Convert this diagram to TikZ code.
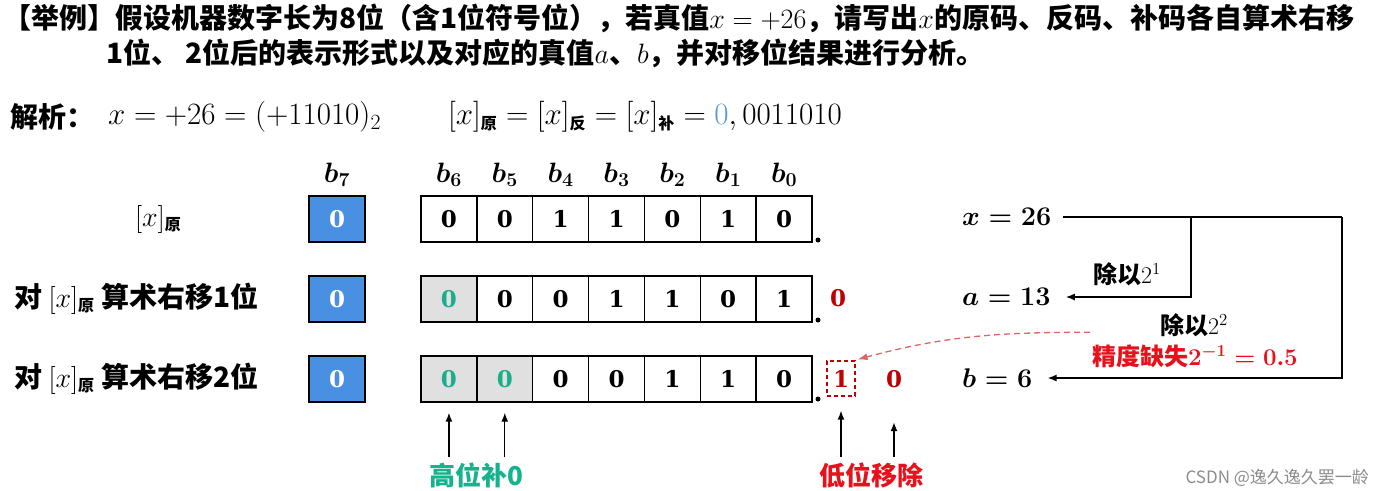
\RequirePackage{fix-cm}
\documentclass[tikz,border=0pt]{standalone}
\usepackage{amsmath}
\usepackage[no-math]{fontspec}
\setmainfont{Noto Sans CJK SC}
\newfontfamily\wmfont{Noto Sans CJK SC}
\newfontfamily\digfont{DejaVu Serif}
\usetikzlibrary{arrows.meta}
\definecolor{signblue}{HTML}{4A90E2}
\definecolor{padteal}{HTML}{1AAE8A}
\definecolor{lblteal}{HTML}{12B38D}
\definecolor{bitred}{HTML}{C00000}
\definecolor{brightred}{HTML}{E8101A}
\definecolor{dashred}{HTML}{E06666}
\definecolor{fblue}{HTML}{5B9BD5}
\newcommand\cjsub[1]{_{\mbox{\fontsize{16}{16}\selectfont\bfseries #1}}}
\newcommand\bnum[1]{{\boldmath$#1$}}
\tikzset{
  cell/.style={draw, line width=1.4pt, minimum width=55.86pt, minimum height=46pt, inner sep=0pt, font=\fontsize{23}{23}\digfont\bfseries},
  signcell/.style={cell, fill=signblue, text=white},
  padcell/.style={cell, fill=black!12, text=padteal},
  bitlbl/.style={font=\fontsize{28}{28}\selectfont},
  ttl/.style={anchor=west, inner sep=0pt, font=\fontsize{28}{28}\selectfont\bfseries},
  rowlbl/.style={anchor=west, inner sep=0pt, font=\fontsize{28}{28}\selectfont\bfseries},
  val/.style={anchor=west, inner sep=0pt, font=\fontsize{27}{27}\selectfont},
  frm/.style={anchor=west, inner sep=0pt, font=\fontsize{31}{31}\selectfont},
  reddig/.style={text=bitred, font=\fontsize{23}{23}\digfont\bfseries},
  arr/.style={line width=1.4pt, -{Latex[length=9pt,width=7pt]}},
  conn/.style={line width=1.6pt, -{Latex[length=9pt,width=7pt]}},
  dotc/.style={circle, fill=black, inner sep=0pt, minimum size=5pt},
}
\begin{document}
\begin{tikzpicture}[x=1pt,y=-1pt]
\useasboundingbox (0,0) rectangle (1383,490);
% title
\node[ttl] (t1) at (3,18) {【举例】假设机器数字长为8位（含1位符号位），若真值$x=+26$，请写出$x$的原码、反码、补码各自算术右移};
\node[ttl] (t2) at (106,53) {1位、 2位后的表示形式以及对应的真值$a$、$b$，并对移位结果进行分析。};
% analysis
\node[rowlbl] (jx) at (10,117) {解析：};
\node[frm] (f1) at (108,117) {$x=+26=(+11010)_2$};
\node[frm] (f2) at (448,117) {$[x]\cjsub{原}=[x]\cjsub{反}=[x]\cjsub{补}=\textcolor{fblue}{0},0011010$};
% bit labels
\node[bitlbl] (b7) at (337,175) {\bnum{b_7}};
\foreach \i/\k in {0/6,1/5,2/4,3/3,4/2,5/1,6/0}
  \node[bitlbl] (b\k) at (448.93+55.86*\i,175) {\bnum{b_{\k}}};
% row labels
\node[rowlbl] (l1) at (135,219) {$[x]\cjsub{原}$};
\node[rowlbl] (l2) at (14,299) {对 $[x]\cjsub{原}$ 算术右移1位};
\node[rowlbl] (l3) at (14,379) {对 $[x]\cjsub{原}$ 算术右移2位};
% sign cells
\foreach \r/\y in {1/219,2/299,3/379}
  \node[signcell] (r\r s) at (337,\y) {0};
% row 1
\foreach \v [count=\i from 0] in {0,0,1,1,0,1,0}
  \node[cell] (r1c\i) at (448.93+55.86*\i,219) {\v};
% row 2
\node[padcell] (r2c0) at (448.93,299) {0};
\foreach \v [count=\i from 1] in {0,0,1,1,0,1}
  \node[cell] (r2c\i) at (448.93+55.86*\i,299) {\v};
% row 3
\node[padcell] (r3c0) at (448.93,379) {0};
\node[padcell] (r3c1) at (504.79,379) {0};
\foreach \v [count=\i from 2] in {0,0,1,1,0}
  \node[cell] (r3c\i) at (448.93+55.86*\i,379) {\v};
% radix points
\node[dotc] (d1) at (818,240) {};
\node[dotc] (d2) at (818,320) {};
\node[dotc] (d3) at (818,399) {};
% shifted out bits
\node[reddig] (o2) at (838,298) {0};
\node[reddig, draw=bitred, dash pattern=on 4pt off 3pt, line width=1.2pt, minimum width=28pt, minimum height=35pt, inner sep=0pt] (o3a) at (841,378.5) {1};
\node[reddig] (o3b) at (894,379) {0};
% values
\node[val] (xv) at (962,217) {\bnum{x=26}};
\node[val] (av) at (962,297) {\bnum{a=13}};
\node[val] (bv) at (962,378) {\bnum{b=6}};
\coordinate (j1) at (1191,217);
\coordinate (j2) at (1342,217);
\draw[line width=1.6pt, shorten <=12pt] (xv.east) -- (j2);
\draw[conn, shorten >=15pt] (j1) -- (j1 |- av) -- (av.east);
\draw[conn, shorten >=15pt] (j2) -- (j2 |- bv) -- (bv.east);
\node[anchor=west, inner sep=0pt, font=\fontsize{24}{24}\selectfont\bfseries] (d21) at (1093,274) {除以$2^1$};
\node[anchor=west, inner sep=0pt, font=\fontsize{24}{24}\selectfont\bfseries] (d22) at (1160,325) {除以$2^2$};
\node[anchor=west, inner sep=0pt, text=brightred, font=\fontsize{24}{24}\selectfont\bfseries] (loss) at (1092,356) {精度缺失\bnum{2^{-1}=0.5}};
\draw[dashred, dash pattern=on 6pt off 4pt, line width=1.3pt, -{Latex[length=10pt,width=7pt]}] (loss.north west) ++(-2,-12) coordinate (ls) to[out=180,in=15] ([xshift=2pt,yshift=1pt]o3a.north east);
% bottom labels
\node[text=lblteal, font=\fontsize{26}{26}\selectfont\bfseries] (hi) at (476,475) {高位补0};
\node[text=brightred, font=\fontsize{26}{26}\selectfont\bfseries] (lo) at (871,475) {低位移除};
\draw[arr, shorten >=10pt] (hi.north -| r3c0) ++(0,-2) -- (r3c0.south);
\draw[arr, shorten >=10pt] (hi.north -| r3c1) ++(0,-2) -- (r3c1.south);
\draw[arr, shorten >=14pt] (lo.north -| o3a) ++(0,-2) -- (o3a.south);
\draw[arr, shorten >=31pt] (lo.north -| o3b) ++(0,-2) -- (o3b.south);
% watermark
\node[anchor=west, text=black!45, font=\fontsize{17}{17}\wmfont] (wm) at (1182,478) {CSDN @逸久逸久罢一龄};
\end{tikzpicture}
\end{document}
